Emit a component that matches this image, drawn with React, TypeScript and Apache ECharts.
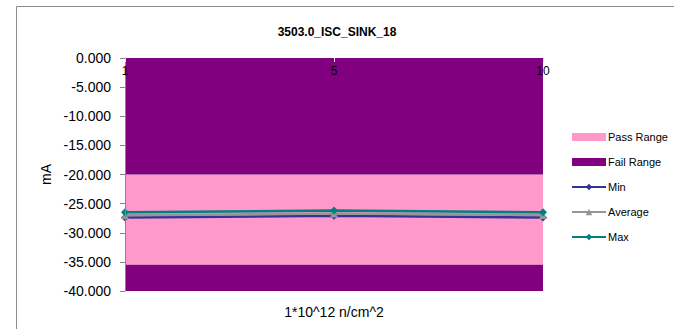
import React, { useEffect, useRef } from "react";
import * as echarts from "echarts";

const categories = ["1", "5", "10"];
const minValues = [-27.4, -27.1, -27.4];
const averageValues = [-27.0, -26.7, -26.95];
const maxValues = [-26.5, -26.2, -26.5];
const axisMin = -40;
const axisMax = 0;
const axisInterval = 5;
const passLow = -35.5;
const passHigh = -20;
const chartTitle = "3503.0_ISC_SINK_18";
const xAxisTitle = "1*10^12 n/cm^2";
const yAxisTitle = "mA";

const FONT = "Liberation Sans";

export default function App() {
  const ref = useRef<HTMLDivElement>(null);
  useEffect(() => {
    if (!ref.current) return;
    const chart = echarts.init(ref.current, null, { renderer: "svg" });
    const lineSeries = (name: string, data: number[], color: string, symbol: string) => ({
      name,
      type: "line",
      data,
      z: 5,
      symbol,
      symbolSize: 8,
      lineStyle: { color, width: 2.5 },
      itemStyle: { color },
    });
    chart.setOption({
      animation: false,
      backgroundColor: "#ffffff",
      textStyle: { fontFamily: FONT },
      title: {
        text: chartTitle,
        left: "center",
        top: 21,
        textStyle: { fontFamily: FONT, fontSize: 12, fontWeight: "bold", color: "#000" },
      },
      grid: { left: 125, right: 131, top: 58, bottom: 38 },
      legend: {
        orient: "vertical",
        left: 571,
        top: 130,
        padding: 0,
        itemWidth: 34,
        itemHeight: 8,
        itemGap: 11,
        textStyle: { fontFamily: FONT, fontSize: 11, color: "#000", lineHeight: 14, padding: [0, 0, 0, -3] },
        data: [
          { name: "Pass Range", icon: "rect" },
          { name: "Fail Range", icon: "rect" },
          "Min",
          "Average",
          "Max",
        ],
      },
      xAxis: {
        type: "category",
        data: categories,
        boundaryGap: false,
        position: "top",
        z: 10,
        axisLine: { show: false },
        axisTick: { show: true, inside: true, length: 4, lineStyle: { color: "#e0e0e0" } },
        axisLabel: { inside: true, margin: 7, fontSize: 12, color: "#000", fontFamily: FONT },
        splitLine: { show: false },
      },
      yAxis: {
        type: "value",
        min: axisMin,
        max: axisMax,
        interval: axisInterval,
        name: yAxisTitle,
        nameLocation: "middle",
        nameGap: 71,
        z: 10,
        nameTextStyle: { fontSize: 14, color: "#000", fontFamily: FONT },
        axisLine: { show: true, lineStyle: { color: "#868686", width: 1 } },
        axisTick: { show: true, length: 5, lineStyle: { color: "#868686" } },
        axisLabel: {
          fontSize: 14,
          color: "#000",
          fontFamily: FONT,
          margin: 14,
          formatter: (v: number) => v.toFixed(3),
        },
        splitLine: { show: false },
      },
      graphic: [
        {
          type: "rect",
          shape: { x: 16.5, y: 6.5, width: 800, height: 500 },
          style: { fill: "none", stroke: "#8c8c8c", lineWidth: 1 },
          silent: true,
          z: -10,
        },
        {
          type: "text",
          x: 334,
          y: 312,
          style: {
            text: xAxisTitle,
            fontFamily: FONT,
            fontSize: 14,
            fill: "#000",
            textAlign: "center",
            textVerticalAlign: "middle",
          },
        },
      ],
      series: [
        {
          name: "Pass Range",
          type: "line",
          data: [],
          z: 1,
          itemStyle: { color: "#FF99CC" },
          lineStyle: { color: "#FF99CC" },
          markArea: {
            silent: true,
            itemStyle: { color: "#FF99CC", opacity: 1 },
            data: [[{ yAxis: passHigh }, { yAxis: passLow }]],
          },
        },
        {
          name: "Fail Range",
          type: "line",
          data: [],
          z: 1,
          itemStyle: { color: "#800080" },
          lineStyle: { color: "#800080" },
          markArea: {
            silent: true,
            itemStyle: { color: "#800080", opacity: 1 },
            data: [
              [{ yAxis: axisMax }, { yAxis: passHigh }],
              [{ yAxis: passLow }, { yAxis: axisMin }],
            ],
          },
        },
        lineSeries("Min", minValues, "#333399", "diamond"),
        lineSeries("Average", averageValues, "#969696", "triangle"),
        lineSeries("Max", maxValues, "#008080", "diamond"),
      ],
    });
    return () => chart.dispose();
  }, []);
  return (
    <div
      ref={ref}
      style={{ position: "fixed", left: 0, top: 0, width: 674, height: 329 }}
    />
  );
}
